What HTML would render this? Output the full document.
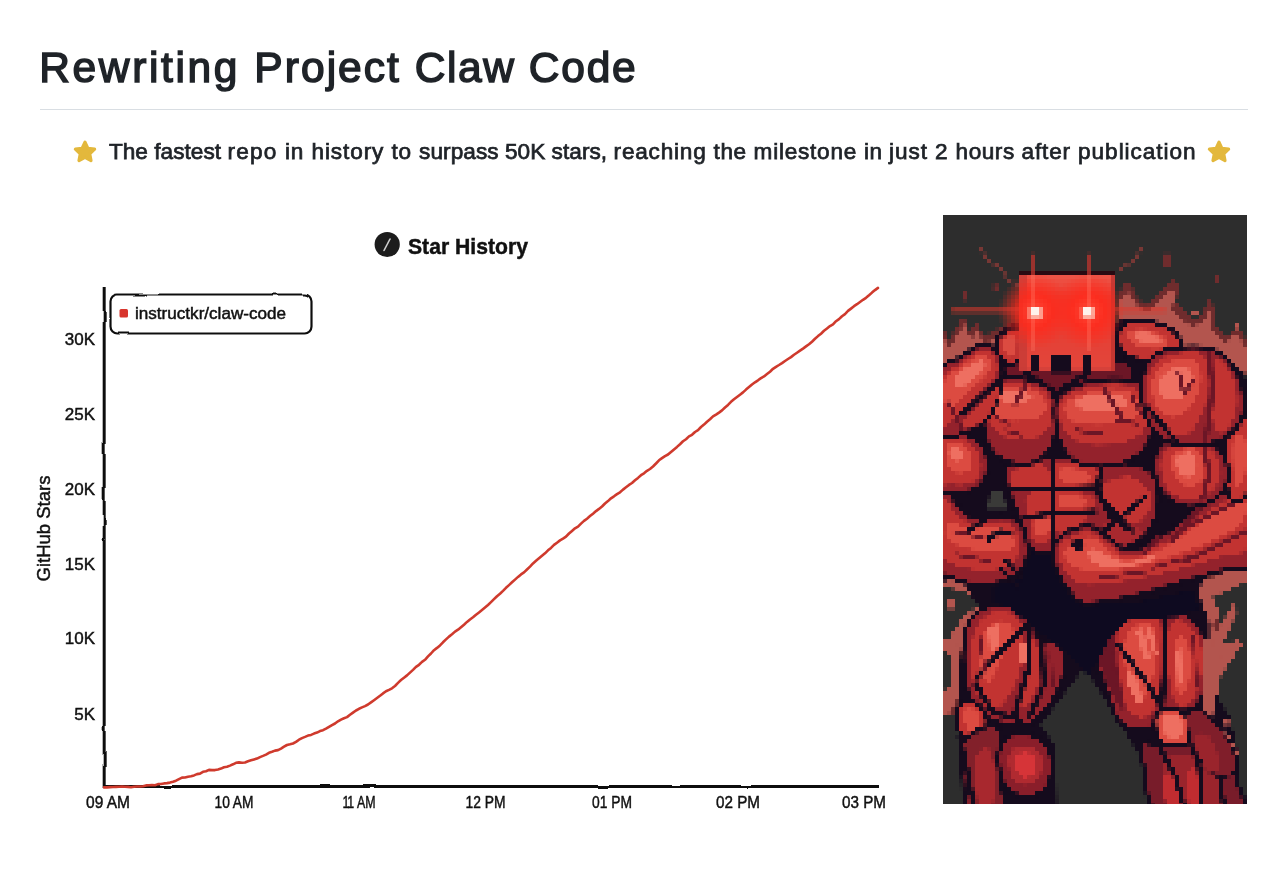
<!DOCTYPE html>
<html lang="en">
<head>
<meta charset="utf-8">
<title>Rewriting Project Claw Code</title>
<style>
html,body{margin:0;padding:0;background:#fff;}
body{width:1280px;height:871px;position:relative;overflow:hidden;font-family:"Liberation Sans",sans-serif;color:#1f2328;}
h1{position:absolute;left:39.3px;top:38px;margin:0;font-size:42.5px;line-height:60px;font-weight:normal;-webkit-text-stroke:1.5px #1f2328;color:#1f2328;white-space:nowrap;word-spacing:0;letter-spacing:0;}
.rule{position:absolute;left:40px;top:109px;width:1208px;height:1px;background:#d9dee3;}
.sub{position:absolute;left:0;top:136px;width:1280px;height:32px;}
.sub .t{position:absolute;left:109px;top:0;font-size:22.6px;line-height:32px;font-weight:normal;-webkit-text-stroke:0.75px #1f2328;letter-spacing:0;white-space:nowrap;color:#1f2328;transform-origin:0 50%;}
.sub svg{position:absolute;top:3px;}
#chart{position:absolute;left:0;top:200px;}
#art{position:absolute;left:943px;top:215px;}
.hand{font-family:"Liberation Sans",sans-serif;fill:#111;stroke:#111;stroke-width:0.45px;}
</style>
</head>
<body>
<h1 id="h1"><span style="letter-spacing:2.61px">Rewriting </span><span style="letter-spacing:2.05px">Project </span><span style="letter-spacing:1.55px">Claw </span><span style="letter-spacing:1.72px">Code</span></h1>
<div class="rule"></div>
<div class="sub">
<svg style="left:72px" width="26" height="26" viewBox="0 0 26 26"><path d="M13 3.2 L15.9 9.4 L22.6 10.2 L17.7 14.9 L19 21.6 L13 18.3 L7 21.6 L8.3 14.9 L3.4 10.2 L10.1 9.4 Z" fill="#e3b83c" stroke="#e3b83c" stroke-width="3.2" stroke-linejoin="round"/></svg>
<span class="t" id="subt"><span style="letter-spacing:0px">The </span><span style="letter-spacing:0.05px">fastest </span><span style="letter-spacing:1.2px">repo </span><span style="letter-spacing:0.88px">in </span><span style="letter-spacing:0.9px">history </span><span style="letter-spacing:0.79px">to </span><span style="letter-spacing:0.08px">surpass </span><span style="letter-spacing:0.01px">50K </span><span style="letter-spacing:0.07px">stars, </span><span style="letter-spacing:0.78px">reaching </span><span style="letter-spacing:0.58px">the </span><span style="letter-spacing:0.75px">milestone </span><span style="letter-spacing:0.38px">in </span><span style="letter-spacing:0.91px">just </span><span style="letter-spacing:0.83px">2 </span><span style="letter-spacing:0.53px">hours </span><span style="letter-spacing:0.84px">after </span><span style="letter-spacing:0.95px">publication</span></span>
<svg style="left:1206px" width="26" height="26" viewBox="0 0 26 26"><path d="M13 3.2 L15.9 9.4 L22.6 10.2 L17.7 14.9 L19 21.6 L13 18.3 L7 21.6 L8.3 14.9 L3.4 10.2 L10.1 9.4 Z" fill="#e3b83c" stroke="#e3b83c" stroke-width="3.2" stroke-linejoin="round"/></svg>
</div>

<svg id="chart" width="930" height="671" viewBox="0 200 930 671">

<defs>
<filter id="wob" x="-5%" y="-5%" width="110%" height="110%"><feTurbulence type="fractalNoise" baseFrequency="0.035" numOctaves="2" seed="5" result="n"/><feDisplacementMap in="SourceGraphic" in2="n" scale="2.4" xChannelSelector="R" yChannelSelector="G"/></filter>
</defs>
<!-- title -->
<circle cx="387.2" cy="244.5" r="12.6" fill="#1c1c1c"/>
<path d="M384 250.5 L390 239" stroke="#cfcfcf" stroke-width="1.6" stroke-linecap="round" fill="none"/>
<text class="hand" x="408" y="253.5" font-size="22" font-weight="bold" stroke-width="0" textLength="120" lengthAdjust="spacingAndGlyphs">Star History</text>
<!-- axes -->
<g filter="url(#wob)">
<path d="M104.2 287 L104.2 788" stroke="#111" stroke-width="3" fill="none"/>
<path d="M103 786.6 L879 786.6" stroke="#111" stroke-width="3" fill="none"/>
</g>
<!-- legend -->
<g filter="url(#wob)"><rect x="110.5" y="294.5" width="201" height="39" rx="7" ry="7" fill="#fff" stroke="#111" stroke-width="2.2"/></g>
<rect x="119.5" y="309" width="8.5" height="8.5" rx="1.5" fill="#d8352d"/>
<text class="hand" x="135" y="319" font-size="16" textLength="151" lengthAdjust="spacingAndGlyphs">instructkr/claw-code</text>
<!-- y ticks -->
<g class="hand" font-size="17" text-anchor="end">
<text x="95" y="344.5">30K</text>
<text x="95" y="419.5">25K</text>
<text x="95" y="494.5">20K</text>
<text x="95" y="570">15K</text>
<text x="95" y="643.5">10K</text>
<text x="95" y="719.5">5K</text>
</g>
<text class="hand" font-size="18" textLength="106" lengthAdjust="spacingAndGlyphs" transform="translate(49.5 581.5) rotate(-90)">GitHub Stars</text>
<!-- x ticks -->
<g class="hand" font-size="17" text-anchor="middle" lengthAdjust="spacingAndGlyphs">
<text x="108" y="808" textLength="44" lengthAdjust="spacingAndGlyphs">09 AM</text>
<text x="234" y="808" textLength="39" lengthAdjust="spacingAndGlyphs">10 AM</text>
<text x="359" y="808" textLength="33" lengthAdjust="spacingAndGlyphs"><tspan letter-spacing="-3">1</tspan>1 AM</text>
<text x="485.6" y="808" textLength="40" lengthAdjust="spacingAndGlyphs">12 PM</text>
<text x="612" y="808" textLength="40" lengthAdjust="spacingAndGlyphs">01 PM</text>
<text x="738" y="808" textLength="44" lengthAdjust="spacingAndGlyphs">02 PM</text>
<text x="864" y="808" textLength="44" lengthAdjust="spacingAndGlyphs">03 PM</text>
</g>
<!-- curve -->
<path d="M104.0 787.4 L107.0 787.4 L110.0 787.1 L113.0 787.0 L116.0 786.9 L119.0 786.8 L122.0 786.5 L125.0 786.8 L128.0 786.9 L131.0 787.2 L134.0 786.7 L137.0 786.5 L140.0 786.5 L143.0 786.2 L146.0 785.4 L149.0 785.3 L152.0 785.1 L155.0 785.2 L158.0 784.1 L161.0 784.0 L164.0 783.4 L167.0 783.1 L170.0 782.6 L173.0 781.8 L176.0 780.7 L179.0 779.1 L182.0 777.6 L185.0 777.5 L188.0 776.7 L191.0 776.3 L194.0 775.4 L197.0 774.1 L200.0 773.6 L203.0 771.8 L206.0 771.3 L209.0 769.9 L212.0 770.1 L215.0 770.1 L218.0 769.5 L221.0 768.6 L224.0 767.3 L227.0 766.8 L230.0 765.6 L233.0 764.3 L236.0 762.8 L239.0 762.4 L242.0 762.7 L245.0 762.5 L248.0 761.3 L251.0 760.3 L254.0 759.4 L257.0 758.6 L260.0 757.1 L263.0 755.9 L266.0 754.6 L269.0 752.8 L272.0 751.8 L275.0 750.6 L278.0 750.1 L281.0 748.6 L284.0 746.7 L287.0 745.0 L290.0 744.3 L293.0 743.5 L296.0 741.9 L299.0 739.7 L302.0 738.1 L305.0 736.9 L308.0 735.6 L311.0 734.9 L314.0 733.6 L317.0 732.6 L320.0 731.1 L323.0 730.2 L326.0 728.7 L329.0 726.9 L332.0 725.1 L335.0 723.5 L338.0 721.3 L341.0 719.6 L344.0 718.2 L347.0 717.1 L350.0 714.8 L353.0 712.6 L356.0 710.5 L359.0 708.8 L362.0 707.4 L365.0 706.1 L368.0 704.5 L371.0 702.4 L374.0 700.2 L377.0 698.0 L380.0 695.8 L383.0 693.4 L386.0 691.3 L389.0 689.9 L392.0 688.3 L395.0 686.0 L398.0 682.9 L401.0 680.0 L404.0 677.7 L407.0 675.4 L410.0 672.6 L413.0 669.9 L416.0 666.8 L419.0 664.8 L422.0 661.9 L425.0 659.8 L428.0 656.4 L431.0 653.5 L434.0 650.2 L437.0 647.9 L440.0 645.4 L443.0 642.3 L446.0 639.4 L449.0 636.6 L452.0 634.3 L455.0 631.6 L458.0 629.7 L461.0 627.2 L464.0 624.7 L467.0 621.9 L470.0 619.5 L473.0 617.3 L476.0 614.8 L479.0 612.5 L482.0 610.1 L485.0 607.6 L488.0 605.0 L491.0 602.1 L494.0 599.1 L497.0 596.2 L500.0 593.8 L503.0 590.9 L506.0 587.8 L509.0 585.1 L512.0 582.3 L515.0 579.6 L518.0 576.9 L521.0 574.4 L524.0 572.4 L527.0 569.5 L530.0 566.6 L533.0 563.4 L536.0 560.8 L539.0 558.3 L542.0 555.8 L545.0 553.3 L548.0 550.3 L551.0 547.9 L554.0 544.9 L557.0 542.7 L560.0 540.4 L563.0 538.7 L566.0 536.7 L569.0 533.5 L572.0 530.9 L575.0 528.3 L578.0 526.6 L581.0 523.6 L584.0 520.9 L587.0 518.7 L590.0 516.1 L593.0 513.7 L596.0 511.1 L599.0 508.9 L602.0 506.5 L605.0 503.5 L608.0 501.1 L611.0 498.3 L614.0 496.3 L617.0 494.1 L620.0 492.3 L623.0 489.6 L626.0 487.3 L629.0 484.9 L632.0 483.0 L635.0 480.3 L638.0 477.9 L641.0 475.2 L644.0 473.3 L647.0 470.8 L650.0 469.0 L653.0 466.5 L656.0 463.5 L659.0 460.3 L662.0 458.1 L665.0 456.1 L668.0 454.5 L671.0 451.9 L674.0 449.4 L677.0 446.9 L680.0 444.2 L683.0 441.3 L686.0 439.2 L689.0 436.4 L692.0 434.8 L695.0 432.0 L698.0 430.2 L701.0 427.0 L704.0 424.6 L707.0 421.7 L710.0 419.3 L713.0 416.4 L716.0 414.6 L719.0 412.6 L722.0 410.4 L725.0 407.5 L728.0 404.9 L731.0 401.8 L734.0 399.3 L737.0 397.0 L740.0 394.7 L743.0 392.4 L746.0 389.6 L749.0 387.1 L752.0 384.5 L755.0 382.3 L758.0 380.3 L761.0 378.1 L764.0 376.4 L767.0 374.0 L770.0 371.7 L773.0 368.8 L776.0 366.8 L779.0 365.0 L782.0 363.1 L785.0 361.0 L788.0 359.0 L791.0 357.1 L794.0 354.8 L797.0 352.7 L800.0 350.6 L803.0 348.6 L806.0 346.4 L809.0 344.3 L812.0 341.7 L815.0 338.8 L818.0 336.1 L821.0 333.7 L824.0 330.8 L827.0 328.5 L830.0 326.1 L833.0 324.4 L836.0 321.2 L839.0 319.1 L842.0 316.2 L845.0 314.1 L848.0 310.9 L851.0 308.6 L854.0 306.2 L857.0 304.2 L860.0 302.0 L863.0 299.8 L866.0 297.8 L869.0 295.3 L872.0 292.6 L875.0 290.1 L878.0 287.9" stroke="#cf3a2d" stroke-width="2.6" fill="none" stroke-linejoin="round" stroke-linecap="round"/>

</svg>

<svg id="art" width="304" height="589" viewBox="0 0 304 589">
<defs><filter id="pix" x="0" y="0" width="304" height="592" filterUnits="userSpaceOnUse" color-interpolation-filters="sRGB"><feGaussianBlur in="SourceGraphic" stdDeviation="0.55" result="b"/><feFlood x="2" y="2" width="1" height="1"/><feComposite width="4" height="4"/><feTile result="a"/><feComposite in="b" in2="a" operator="in" result="s"/><feOffset in="s" dx="-2" dy="0" result="h1"/><feOffset in="s" dx="-1" dy="0" result="h2"/><feOffset in="s" dx="1" dy="0" result="h3"/><feMerge result="h"><feMergeNode in="s"/><feMergeNode in="h1"/><feMergeNode in="h2"/><feMergeNode in="h3"/></feMerge><feOffset in="h" dx="0" dy="-2" result="v1"/><feOffset in="h" dx="0" dy="-1" result="v2"/><feOffset in="h" dx="0" dy="1" result="v3"/><feMerge><feMergeNode in="h"/><feMergeNode in="v1"/><feMergeNode in="v2"/><feMergeNode in="v3"/></feMerge></filter></defs>
<g filter="url(#pix)"><rect width="304" height="596" fill="#2d2d2d"/>
<!-- ART-START -->
<polygon points="0.0,111.4 6.1,126.6 13.5,113.1 20.9,101.2 27.0,116.4 33.7,107.3 41.2,121.5 50.6,116.4 62.4,110.7 76.9,108.0 76.9,155.2 0.0,155.2" fill="#6f2c2d" />
<polygon points="0.0,121.5 7.4,135.0 16.2,118.1 22.3,109.7 28.3,125.5 35.1,116.4 41.8,128.9 54.0,123.2 76.9,116.4 76.9,155.2 0.0,155.2" fill="#b3554e" />
<rect x="19.6" y="75.9" width="5.4" height="10.5" fill="#6f2c2d" />
<rect x="50.6" y="70.2" width="5.4" height="5.4" fill="#6f2c2d" />
<polygon points="175.5,79.3 183.9,66.8 189.7,72.6 195.1,83.7 203.2,90.4 211.9,84.4 220.0,75.9 229.5,65.1 236.9,71.5 233.5,87.7 243.7,98.5 252.4,105.3 260.5,97.9 267.3,83.7 271.0,91.8 274.0,111.4 284.2,122.2 294.3,111.4 299.0,116.8 304.1,125.5 304.1,158.6 175.5,158.6" fill="#6f2c2d" />
<polygon points="175.5,88.4 184.9,75.9 192.4,88.4 202.5,97.9 216.0,88.4 226.8,74.9 232.9,78.3 229.5,94.5 240.3,105.3 250.4,113.1 261.9,105.3 267.3,94.5 270.0,114.7 282.8,129.9 292.9,118.8 304.1,133.3 304.1,158.6 175.5,158.6" fill="#b3554e" />
<rect x="221.1" y="38.8" width="8.4" height="15.2" fill="#6f2c2d" />
<rect x="271.7" y="59.1" width="5.1" height="10.5" fill="#6f2c2d" />
<rect x="249.7" y="96.2" width="6.7" height="5.1" fill="#b3554e" />
<rect x="291.6" y="108.0" width="5.4" height="6.7" fill="#b3554e" />
<polygon points="0.0,350.1 20.2,363.6 43.9,380.5 50.6,394.0 37.1,407.5 23.6,434.5 20.2,499.0 0.0,499.0" fill="#6f2c2d" />
<polygon points="0.0,363.6 16.9,370.4 40.5,383.9 43.9,394.0 30.4,407.5 20.2,427.7 13.5,461.5 6.7,499.0 0.0,499.0" fill="#b3554e" />
<polygon points="0.0,380.5 13.5,380.5 27.0,392.3 16.9,410.9 6.7,421.0 0.0,421.0" fill="#2d2d2d" />
<rect x="4.7" y="387.2" width="8.8" height="8.8" fill="#b3554e" />
<polygon points="0.0,434.5 10.1,441.2 10.1,475.0 0.0,481.7" fill="#2d2d2d" />
<polygon points="249.7,363.6 270.0,353.5 304.1,350.1 304.1,499.0 263.2,499.0 259.9,441.2 249.7,394.0" fill="#6f2c2d" />
<polygon points="251.4,373.7 270.0,363.6 297.0,356.9 304.1,363.6 304.1,380.5 283.5,387.2 270.0,407.5 273.4,434.5 266.6,461.5 270.0,499.0 259.9,499.0 260.5,421.0 253.1,394.0" fill="#b3554e" />
<polygon points="273.4,380.5 304.1,370.4 304.1,499.0 280.1,499.0 276.7,461.5 283.5,437.9 276.7,407.5" fill="#2d2d2d" />
<polygon points="0.0,423.2 13.5,430.0 20.2,453.6 13.5,484.0 0.0,484.0" fill="#2d2d2d" />
<polygon points="0.0,352.4 10.1,352.4 50.6,382.7 43.9,396.2 23.6,409.7 13.5,436.7 0.0,430.0" fill="#b3554e" />
<polygon points="0.0,372.6 20.2,376.0 37.1,389.5 20.2,403.0 6.7,423.2 0.0,423.2" fill="#2d2d2d" />
<rect x="4.0" y="384.4" width="8.8" height="10.1" fill="#b3554e" />
<polygon points="0.0,424.9 13.5,424.9 16.9,443.5 15.2,484.0 6.7,497.5 0.0,497.5" fill="#b3554e" />
<polygon points="0.0,436.7 7.4,440.1 7.4,470.5 0.0,477.2" fill="#2d2d2d" />
<polygon points="246.4,372.6 304.1,349.0 304.1,406.4 283.5,396.2 270.0,409.7 263.2,436.7 249.7,406.4" fill="#b3554e" />
<polygon points="270.0,382.7 304.1,367.6 304.1,589.0 290.2,589.0 286.9,531.2 270.0,514.4 270.0,484.0 280.1,453.6 270.0,436.7 280.1,403.0" fill="#2d2d2d" />
<polygon points="266.6,430.0 290.2,389.5 295.3,396.2 280.1,430.0 297.0,424.9 300.4,431.7 280.1,450.2 275.1,484.0 286.9,511.0 283.5,517.7 268.3,504.2 266.6,470.5" fill="#b3554e" />
<rect x="282.8" y="504.2" width="6.1" height="6.7" fill="#b3554e" />
<path d="M-3.4 162.0 C-0.6 137.3 10.0 151.0 16.9 145.8 C23.7 140.6 31.3 132.7 37.8 130.9 C44.3 129.1 51.9 137.7 55.7 135.0 C59.5 132.3 57.0 118.7 60.7 114.7 C64.5 110.8 75.4 105.7 78.3 111.4 C81.2 117.0 62.7 142.3 78.3 148.5 C93.9 154.7 156.4 155.0 172.1 148.5 C187.9 142.0 167.7 117.0 172.8 109.7 C177.9 102.4 192.5 103.5 202.5 104.6 C212.5 105.7 226.1 111.4 232.9 116.4 C239.6 121.5 236.8 131.9 243.0 135.0 C249.2 138.1 261.6 132.2 270.0 135.0 C278.4 137.8 287.9 145.1 293.6 151.9 C299.3 158.6 302.3 151.8 304.1 175.5 C305.8 199.2 354.8 274.2 304.1 294.0 C253.4 313.7 51.2 316.0 0.0 294.0 C-51.2 272.0 -6.2 186.7 -3.4 162.0Z" fill="#150b1d" />
<polygon points="0.0,272.5 304.1,272.5 304.1,350.1 259.9,363.6 256.5,380.5 266.6,407.5 266.6,441.2 266.6,468.2 286.9,502.0 297.0,542.5 298.7,593.1 20.2,593.1 16.9,461.5 20.2,421.0 37.1,394.0 20.2,367.0 0.0,356.9" fill="#150b1d" />
<polygon points="141.7,452.9 97.9,511.0 113.1,531.2 114.7,597.1 222.7,597.1 202.5,551.5 189.0,527.9 162.0,484.0" fill="#2d2d2d" />
<polygon points="47.2,277.6 60.7,277.6 64.1,294.4 45.6,294.4" fill="#3a3a38" />
<rect x="168.7" y="107.3" width="13.5" height="43.9" fill="#150b1d" />
<path d="M25.3 409.7 C29.1 400.7 36.8 396.0 43.9 392.9 C50.9 389.8 60.1 388.9 67.5 391.2 C74.9 393.4 83.1 400.2 88.4 406.4 C93.8 412.6 95.5 425.2 99.6 428.3 C103.7 431.4 109.3 422.4 113.1 424.9 C116.8 427.5 121.3 435.9 122.2 443.5 C123.0 451.1 121.6 461.5 118.1 470.5 C114.6 479.5 107.4 490.7 101.2 497.5 C95.1 504.2 90.0 509.8 81.0 511.0 C72.0 512.2 56.1 509.4 47.2 504.9 C38.4 500.4 32.1 493.7 27.7 484.0 C23.3 474.3 21.3 459.2 20.9 446.9 C20.5 434.5 21.5 418.7 25.3 409.7Z" fill="#94222c" stroke="#150b1d" stroke-width="4.0" stroke-linejoin="round"/>
<path d="M32.1 416.5 C35.2 407.5 41.6 402.7 47.2 399.6 C52.9 396.5 60.5 396.2 65.8 397.9 C71.2 399.6 76.8 403.3 79.3 409.7 C81.8 416.2 82.1 426.6 81.0 436.7 C79.9 446.9 77.1 460.9 72.6 470.5 C68.1 480.1 59.9 491.9 54.0 494.1 C48.1 496.4 41.3 490.7 37.1 484.0 C32.9 477.2 29.5 464.9 28.7 453.6 C27.8 442.4 29.0 425.5 32.1 416.5Z" fill="#c23331" />
<path d="M40.5 419.9 C42.9 415.1 46.7 410.0 50.6 408.1 C54.6 406.1 60.7 406.4 64.1 408.1 C67.5 409.7 71.4 412.8 70.9 418.2 C70.3 423.5 64.7 432.0 60.7 440.1 C56.8 448.3 51.1 464.3 47.2 467.1 C43.4 469.9 39.6 462.1 37.8 457.0 C36.0 451.9 36.0 442.9 36.4 436.7 C36.9 430.6 38.1 424.7 40.5 419.9Z" fill="#dc4b41" />
<polygon points="45.6,413.1 54.7,409.7 56.7,430.0 47.2,440.1" fill="#ee6f61" />
<polygon points="76.9,428.3 83.7,430.0 83.0,448.6 77.6,446.9" fill="#ee6f61" />
<path d="M87.1 424.9 C89.0 422.1 94.5 430.3 96.2 436.7 C97.9 443.2 99.2 454.5 97.2 463.7 C95.2 473.0 87.7 489.1 84.4 492.4 C81.0 495.8 76.9 490.5 76.9 484.0 C76.9 477.5 82.7 463.5 84.4 453.6 C86.1 443.8 85.1 427.7 87.1 424.9Z" fill="#c23331" />
<polyline points="82.7,411.4 33.7,463.7" fill="none" stroke="#150b1d" stroke-width="5.1" stroke-linecap="square" stroke-linejoin="miter" />
<polyline points="88.4,406.4 86.1,453.6 72.6,497.5" fill="none" stroke="#150b1d" stroke-width="5.1" stroke-linecap="square" stroke-linejoin="miter" />
<polyline points="99.6,430.0 101.2,470.5 87.7,500.9" fill="none" stroke="#150b1d" stroke-width="4.7" stroke-linecap="square" stroke-linejoin="miter" />
<polyline points="33.7,470.5 50.6,497.5 79.3,505.9" fill="none" stroke="#150b1d" stroke-width="5.1" stroke-linecap="square" stroke-linejoin="miter" />
<path d="M15.2 494.1 C16.9 488.8 22.5 485.1 27.0 485.7 C31.5 486.2 39.4 492.2 42.2 497.5 C45.0 502.8 45.8 512.7 43.9 517.7 C41.9 522.8 34.9 527.9 30.4 527.9 C25.9 527.9 19.4 523.4 16.9 517.7 C14.3 512.1 13.5 499.5 15.2 494.1Z" fill="#c23331" stroke="#150b1d" stroke-width="4.0" stroke-linejoin="round"/>
<path d="M20.2 498.2 C20.5 494.0 25.9 492.9 28.7 493.4 C31.5 494.0 35.8 498.2 37.1 501.5 C38.4 504.9 38.1 510.9 36.4 513.7 C34.8 516.5 29.7 521.0 27.0 518.4 C24.3 515.8 20.0 502.3 20.2 498.2Z" fill="#dc4b41" />
<path d="M20.2 527.9 C25.3 519.4 43.9 510.4 50.6 511.0 C57.4 511.6 59.6 522.2 60.7 531.2 C61.9 540.2 57.1 554.0 57.4 565.0 C57.7 576.0 67.5 591.7 62.4 597.1 C57.4 602.4 34.0 603.0 27.0 597.1 C20.0 591.2 21.4 573.2 20.2 561.6 C19.1 550.1 15.2 536.3 20.2 527.9Z" fill="#82202a" stroke="#150b1d" stroke-width="4.0" stroke-linejoin="round"/>
<path d="M33.7 543.1 C35.4 532.9 43.6 532.7 46.6 534.6 C49.5 536.6 50.8 544.7 51.3 554.9 C51.7 565.0 51.7 588.6 49.3 595.4 C46.8 602.1 39.0 604.1 36.4 595.4 C33.9 586.7 32.1 553.2 33.7 543.1Z" fill="#a8282e" />
<path d="M57.4 532.9 C59.9 526.5 65.8 520.8 72.6 519.4 C79.3 518.0 91.7 520.0 97.9 524.5 C104.1 529.0 108.6 538.6 109.7 546.4 C110.8 554.3 108.3 565.8 104.6 571.7 C101.0 577.7 93.9 581.0 87.7 581.9 C81.6 582.7 72.6 580.7 67.5 576.8 C62.4 572.9 59.1 565.6 57.4 558.2 C55.7 550.9 54.8 539.4 57.4 532.9Z" fill="#8a1e2a" stroke="#150b1d" stroke-width="4.0" stroke-linejoin="round"/>
<path d="M66.8 539.3 C68.5 534.5 73.7 531.9 78.3 531.2 C82.9 530.6 90.8 532.2 94.5 535.3 C98.2 538.4 100.2 544.7 100.2 549.8 C100.2 554.9 97.9 562.3 94.5 565.7 C91.1 569.0 84.0 571.0 79.6 570.1 C75.3 569.2 70.3 565.4 68.2 560.3 C66.0 555.2 65.1 544.2 66.8 539.3Z" fill="#b02a30" />
<path d="M73.6 542.0 C75.3 539.1 81.2 537.5 84.4 538.0 C87.5 538.4 91.1 541.5 92.5 544.7 C93.8 548.0 94.1 554.5 92.5 557.6 C90.8 560.6 85.7 563.3 82.7 563.0 C79.6 562.7 75.8 559.4 74.2 555.9 C72.7 552.4 71.9 545.0 73.6 542.0Z" fill="#d63438" />
<polyline points="16.9,521.1 23.6,551.5 32.1,597.1" fill="none" stroke="#150b1d" stroke-width="5.1" stroke-linecap="square" stroke-linejoin="miter" />
<path d="M158.6 418.2 C162.4 411.4 168.2 407.2 175.5 403.0 C182.8 398.8 192.4 394.0 202.5 392.9 C212.6 391.7 227.1 392.9 236.2 396.2 C245.4 399.6 252.0 405.8 257.2 413.1 C262.3 420.4 266.2 430.6 267.3 440.1 C268.4 449.7 266.7 461.5 263.9 470.5 C261.1 479.5 257.0 489.6 250.4 494.1 C243.8 498.6 232.1 494.1 224.4 497.5 C216.7 500.9 212.1 512.7 204.2 514.4 C196.3 516.1 184.1 514.7 177.2 507.6 C170.3 500.6 166.8 482.9 162.7 472.2 C158.6 461.5 153.2 452.5 152.5 443.5 C151.9 434.5 154.8 424.9 158.6 418.2Z" fill="#94222c" stroke="#150b1d" stroke-width="4.0" stroke-linejoin="round"/>
<path d="M175.5 414.8 C178.3 405.8 187.3 404.9 194.1 403.0 C200.8 401.1 211.9 398.0 216.0 403.7 C220.1 409.3 218.7 423.6 218.7 436.7 C218.7 449.9 218.7 471.3 216.0 482.3 C213.3 493.3 207.7 500.7 202.5 502.6 C197.3 504.4 189.2 501.0 184.9 493.4 C180.7 485.9 178.8 470.1 177.2 457.0 C175.6 443.9 172.7 423.8 175.5 414.8Z" fill="#c23331" />
<path d="M184.9 418.2 C187.6 412.6 192.9 410.5 197.4 409.7 C201.9 409.0 209.2 407.6 211.9 413.8 C214.6 420.0 215.2 435.5 213.6 446.9 C212.1 458.3 206.5 477.4 202.5 482.3 C198.5 487.3 193.2 483.0 189.7 476.6 C186.2 470.1 182.4 453.2 181.6 443.5 C180.8 433.8 182.3 423.8 184.9 418.2Z" fill="#dc4b41" />
<polygon points="193.0,415.8 200.5,413.8 207.9,443.5 201.8,446.2" fill="#ee6f61" />
<polygon points="203.2,414.5 209.2,413.8 215.3,440.1 211.9,442.1" fill="#ee6f61" />
<polygon points="184.9,454.3 194.1,464.4 201.8,488.0 195.7,491.4 185.6,470.5" fill="#ee6f61" />
<path d="M227.5 411.4 C230.4 403.8 238.0 405.4 243.0 408.1 C247.9 410.7 254.5 419.1 257.2 427.3 C259.9 435.5 260.5 447.3 259.2 457.0 C257.8 466.7 253.3 480.3 249.1 485.7 C244.8 491.0 237.5 494.4 233.5 489.1 C229.6 483.7 226.5 466.6 225.4 453.6 C224.4 440.7 224.5 419.0 227.5 411.4Z" fill="#c23331" />
<path d="M232.9 427.3 C234.4 422.1 238.6 420.4 241.0 422.6 C243.4 424.7 246.6 432.2 247.4 440.1 C248.2 448.0 247.6 463.3 245.7 469.8 C243.8 476.3 238.6 482.0 236.2 479.3 C233.9 476.6 232.4 462.3 231.9 453.6 C231.3 445.0 231.4 432.5 232.9 427.3Z" fill="#dc4b41" />
<polygon points="233.5,436.7 238.6,434.0 239.6,469.8 234.9,471.2" fill="#ee6f61" />
<path d="M159.3 424.9 C161.8 420.3 168.2 411.0 170.8 415.8 C173.4 420.6 172.9 440.0 174.8 453.6 C176.7 467.2 183.5 494.1 182.2 497.5 C181.0 500.9 171.8 482.9 167.4 473.9 C163.0 464.9 157.3 451.7 155.9 443.5 C154.6 435.3 156.8 429.5 159.3 424.9Z" fill="#6c1626" />
<polyline points="221.1,396.2 222.7,443.5 219.4,494.1" fill="none" stroke="#150b1d" stroke-width="5.1" stroke-linecap="square" stroke-linejoin="miter" />
<polyline points="175.5,430.0 205.9,470.5 219.4,494.1" fill="none" stroke="#150b1d" stroke-width="4.7" stroke-linecap="square" stroke-linejoin="miter" />
<path d="M213.3 500.9 C215.5 495.8 224.0 493.6 229.5 494.1 C235.0 494.7 243.3 499.2 246.4 504.2 C249.5 509.3 250.3 519.4 248.1 524.5 C245.8 529.6 238.2 534.6 232.9 534.6 C227.5 534.6 219.3 530.1 216.0 524.5 C212.7 518.9 211.0 505.9 213.3 500.9Z" fill="#dc4b41" stroke="#150b1d" stroke-width="4.0" stroke-linejoin="round"/>
<path d="M220.0 503.6 C221.6 500.2 229.4 499.0 232.9 500.2 C236.3 501.4 240.1 507.1 240.6 511.0 C241.2 514.9 239.1 522.2 236.2 523.8 C233.4 525.4 226.1 523.8 223.4 520.4 C220.7 517.1 218.5 506.9 220.0 503.6Z" fill="#ee6f61" />
<path d="M199.1 527.9 C201.4 523.4 207.6 531.2 216.0 531.2 C224.4 531.2 240.7 530.1 249.7 527.9 C258.7 525.6 263.8 516.1 270.0 517.7 C276.2 519.4 282.9 530.1 286.9 538.0 C290.8 545.9 291.9 555.2 293.6 565.0 C295.3 574.8 309.9 591.7 297.0 597.1 C284.1 602.4 231.7 603.5 216.0 597.1 C200.2 590.6 205.3 569.8 202.5 558.2 C199.7 546.7 196.9 532.4 199.1 527.9Z" fill="#781c2a" stroke="#150b1d" stroke-width="4.0" stroke-linejoin="round"/>
<path d="M221.1 548.1 C222.6 538.7 236.0 542.5 243.0 540.7 C250.0 538.9 257.9 535.0 263.2 537.3 C268.6 539.7 272.0 544.9 275.1 554.9 C278.2 564.8 288.7 590.0 281.8 597.1 C274.9 604.1 243.7 605.2 233.5 597.1 C223.4 588.9 219.5 557.5 221.1 548.1Z" fill="#9a242c" />
<path d="M245.0 559.9 C246.0 552.8 252.0 552.8 254.5 554.2 C256.9 555.6 259.2 561.2 259.9 568.4 C260.5 575.5 260.4 592.3 258.5 597.1 C256.6 601.8 250.6 603.2 248.4 597.1 C246.1 590.9 244.0 567.1 245.0 559.9Z" fill="#c02c30" />
<path d="M219.4 565.0 C220.4 559.1 229.2 556.3 232.9 561.6 C236.5 567.0 242.3 591.2 241.3 597.1 C240.3 603.0 230.5 602.4 226.8 597.1 C223.1 591.7 218.4 570.9 219.4 565.0Z" fill="#c02c30" />
<polyline points="248.1,527.9 256.5,551.5 259.9,597.1" fill="none" stroke="#150b1d" stroke-width="4.7" stroke-linecap="square" stroke-linejoin="miter" />
<polyline points="216.0,531.2 232.9,561.6 243.0,597.1" fill="none" stroke="#150b1d" stroke-width="4.7" stroke-linecap="square" stroke-linejoin="miter" />
<polyline points="270.0,521.1 276.7,551.5 281.8,597.1" fill="none" stroke="#150b1d" stroke-width="4.7" stroke-linecap="square" stroke-linejoin="miter" />
<polygon points="260.5,425.0 269.9,425.0 272.7,445.7 281.2,440.1 290.6,427.8 297.2,426.9 290.6,443.8 278.4,460.8 272.7,487.1 269.9,504.1 283.1,515.4 296.3,538.0 290.6,541.7 271.8,522.9 260.5,504.1" fill="#b3554e" />
<rect x="281.2" y="505.0" width="5.6" height="5.6" fill="#b3554e" />
<path d="M245.4 498.4 C248.0 495.3 256.1 495.0 260.5 496.5 C264.9 498.1 267.1 502.2 271.8 507.8 C276.5 513.5 285.3 522.3 288.7 530.4 C292.2 538.6 295.3 551.8 292.5 556.8 C289.7 561.8 278.4 563.7 271.8 560.6 C265.2 557.4 257.4 545.5 253.0 538.0 C248.6 530.4 246.7 522.0 245.4 515.4 C244.2 508.8 242.9 501.6 245.4 498.4Z" fill="#801e2a" stroke="#150b1d" stroke-width="2.3" stroke-linejoin="round"/>
<path d="M253.0 522.9 C253.9 519.1 259.2 517.9 262.4 519.1 C265.5 520.4 269.3 524.8 271.8 530.4 C274.3 536.1 278.1 548.6 277.5 553.0 C276.8 557.4 271.5 558.7 268.0 556.8 C264.6 554.9 259.2 547.4 256.7 541.7 C254.2 536.1 252.0 526.7 253.0 522.9Z" fill="#9a242c" />
<polygon points="79.3,334.9 113.1,333.2 116.4,360.2 129.9,382.2 189.0,388.9 249.7,375.4 256.5,394.0 236.2,402.4 189.0,404.1 168.7,421.0 158.6,441.2 145.1,461.5 128.2,441.2 101.2,421.0 67.5,394.0 50.6,387.2 50.6,367.0 79.3,363.6" fill="#0e0a20" />
<path d="M64.1 252.2 C70.9 246.1 92.8 243.2 108.0 242.1 C123.2 241.0 138.8 243.2 155.2 245.5 C171.7 247.7 196.4 248.3 206.5 255.6 C216.7 262.9 216.4 278.7 216.0 289.4 C215.6 300.1 210.9 312.2 204.2 319.7 C197.4 327.3 185.9 333.8 175.5 334.9 C165.1 336.1 152.4 326.1 141.7 326.5 C131.1 326.9 120.7 336.2 111.4 337.3 C102.1 338.4 91.7 338.4 86.1 333.2 C80.4 328.1 80.7 315.2 77.6 306.2 C74.5 297.2 69.7 288.2 67.5 279.2 C65.2 270.2 57.4 258.4 64.1 252.2Z" fill="#94222c" stroke="#150b1d" stroke-width="4.0" stroke-linejoin="round"/>
<path d="M72.6 255.6 C77.9 252.0 95.5 248.0 101.2 250.6 C107.0 253.1 110.1 266.3 107.3 270.8 C104.5 275.3 90.7 277.3 84.4 277.6 C78.0 277.8 71.2 276.2 69.2 272.5 C67.2 268.8 67.2 259.3 72.6 255.6Z" fill="#c23331" />
<path d="M113.1 250.6 C119.0 247.2 140.9 249.2 148.5 252.2 C156.1 255.3 160.9 264.9 158.6 269.1 C156.4 273.3 142.6 277.0 135.0 277.6 C127.4 278.1 116.7 277.0 113.1 272.5 C109.4 268.0 107.2 253.9 113.1 250.6Z" fill="#c23331" />
<path d="M118.1 254.6 C121.4 252.5 136.8 254.4 141.7 256.3 C146.7 258.2 151.1 263.6 147.8 265.7 C144.6 267.9 127.1 271.0 122.2 269.1 C117.2 267.3 114.9 256.7 118.1 254.6Z" fill="#dc4b41" />
<path d="M84.4 280.9 C87.7 276.7 103.8 273.3 108.0 275.9 C112.2 278.4 113.1 291.9 109.7 296.1 C106.3 300.3 92.0 303.7 87.7 301.2 C83.5 298.7 81.0 285.2 84.4 280.9Z" fill="#c23331" />
<path d="M114.7 277.6 C120.1 274.7 142.6 278.1 148.5 280.9 C154.4 283.7 155.5 291.6 150.2 294.4 C144.8 297.2 122.3 300.6 116.4 297.8 C110.5 295.0 109.4 280.4 114.7 277.6Z" fill="#c23331" />
<path d="M117.1 280.6 C120.9 278.9 137.6 281.6 141.7 283.3 C145.9 285.0 145.6 289.4 141.7 291.1 C137.9 292.7 122.9 295.2 118.8 293.4 C114.7 291.7 113.3 282.3 117.1 280.6Z" fill="#dc4b41" />
<path d="M158.6 272.5 C162.6 266.0 180.6 260.4 189.0 262.4 C197.4 264.3 208.4 276.4 209.2 284.3 C210.1 292.2 201.4 306.8 194.1 309.6 C186.7 312.4 171.3 307.4 165.4 301.2 C159.5 295.0 154.7 279.0 158.6 272.5Z" fill="#c23331" />
<path d="M168.7 306.2 C174.9 305.1 190.7 310.5 195.7 313.0 C200.8 315.5 202.5 318.6 199.1 321.4 C195.7 324.2 182.2 330.2 175.5 329.9 C168.7 329.6 159.7 323.7 158.6 319.7 C157.5 315.8 162.6 307.4 168.7 306.2Z" fill="#a8282e" />
<path d="M88.4 304.6 C91.2 300.2 106.0 298.1 109.7 301.2 C113.4 304.3 113.5 318.8 110.7 323.1 C107.9 327.5 96.5 330.3 92.8 327.2 C89.1 324.1 85.6 308.9 88.4 304.6Z" fill="#c23331" />
<path d="M91.8 306.9 C93.9 304.5 103.7 303.7 106.3 305.2 C108.9 306.8 109.5 314.0 107.3 316.4 C105.2 318.8 96.1 321.3 93.5 319.7 C90.9 318.2 89.7 309.3 91.8 306.9Z" fill="#dc4b41" />
<path d="M114.7 301.2 C119.5 298.1 141.7 297.5 145.1 299.5 C148.5 301.5 139.8 309.9 135.0 313.0 C130.2 316.1 119.8 320.0 116.4 318.1 C113.1 316.1 110.0 304.3 114.7 301.2Z" fill="#c23331" />
<polyline points="110.7,245.5 111.4,334.9" fill="none" stroke="#150b1d" stroke-width="5.1" stroke-linecap="square" stroke-linejoin="miter" />
<polyline points="67.5,275.9 111.4,274.2 158.6,272.5" fill="none" stroke="#150b1d" stroke-width="4.7" stroke-linecap="square" stroke-linejoin="miter" />
<polyline points="81.0,302.9 111.4,298.8 151.9,296.8" fill="none" stroke="#150b1d" stroke-width="4.7" stroke-linecap="square" stroke-linejoin="miter" />
<polyline points="158.6,248.9 155.2,275.9 168.7,302.9 189.0,316.4" fill="none" stroke="#150b1d" stroke-width="4.7" stroke-linecap="square" stroke-linejoin="miter" />
<polyline points="148.5,272.5 189.0,316.4" fill="none" stroke="#150b1d" stroke-width="4.4" stroke-linecap="square" stroke-linejoin="miter" />
<polyline points="202.5,282.6 162.0,316.4" fill="none" stroke="#150b1d" stroke-width="4.4" stroke-linecap="square" stroke-linejoin="miter" />
<path d="M0.0 277.6 C3.9 268.0 16.3 295.3 23.6 299.5 C30.9 303.7 37.1 302.6 43.9 302.9 C50.6 303.2 57.9 299.2 64.1 301.2 C70.3 303.2 77.6 307.7 81.0 314.7 C84.4 321.7 86.3 335.2 84.4 343.4 C82.4 351.5 77.1 359.1 69.2 363.6 C61.3 368.1 47.0 370.4 37.1 370.4 C27.3 370.4 16.3 365.9 10.1 363.6 C3.9 361.4 1.7 371.2 0.0 356.9 C-1.7 342.5 -3.9 287.1 0.0 277.6Z" fill="#94222c" stroke="#150b1d" stroke-width="4.0" stroke-linejoin="round"/>
<path d="M0.0 286.0 C3.4 280.3 12.9 302.0 20.2 305.6 C27.6 309.2 36.8 307.3 43.9 307.6 C50.9 307.9 57.3 305.7 62.4 307.6 C67.6 309.5 72.5 314.1 74.9 319.1 C77.3 324.1 78.9 332.1 76.9 337.6 C75.0 343.1 70.6 349.2 63.4 352.1 C56.2 355.1 44.3 357.5 33.7 355.5 C23.2 353.5 5.6 351.6 0.0 340.0 C-5.6 328.4 -3.4 291.7 0.0 286.0Z" fill="#c23331" />
<path d="M6.7 307.9 C10.6 306.5 20.2 313.8 27.0 314.3 C33.7 314.9 40.6 310.4 47.2 311.0 C53.9 311.5 62.8 314.1 66.8 317.7 C70.9 321.3 74.2 329.3 71.5 332.6 C68.8 335.8 59.2 337.3 50.6 337.3 C42.1 337.3 28.0 334.9 20.2 332.6 C12.5 330.2 6.3 327.2 4.0 323.1 C1.8 319.0 2.9 309.4 6.7 307.9Z" fill="#dc4b41" />
<polyline points="27.0,316.4 43.9,303.5 67.5,303.5" fill="none" stroke="#150b1d" stroke-width="5.1" stroke-linecap="square" stroke-linejoin="miter" />
<polyline points="47.2,323.8 57.4,317.0 67.5,318.7" fill="none" stroke="#150b1d" stroke-width="5.4" stroke-linecap="square" stroke-linejoin="miter" />
<polyline points="64.1,346.7 79.3,363.6" fill="none" stroke="#150b1d" stroke-width="4.4" stroke-linecap="square" stroke-linejoin="miter" />
<polyline points="57.4,353.5 75.9,372.1" fill="none" stroke="#150b1d" stroke-width="4.4" stroke-linecap="square" stroke-linejoin="miter" />
<path d="M111.4 331.6 C113.8 325.3 120.8 318.8 127.6 315.7 C134.3 312.6 142.5 309.8 151.9 313.0 C161.3 316.2 173.2 333.2 183.9 334.9 C194.6 336.6 203.9 330.0 216.0 323.1 C228.1 316.2 244.1 301.7 256.5 293.4 C268.9 285.1 281.8 277.2 290.2 273.2 C298.7 269.1 304.3 256.6 307.1 269.1 C309.9 281.7 311.1 334.1 307.1 348.4 C303.2 362.8 295.3 351.8 283.5 355.2 C271.7 358.6 252.0 364.2 236.2 368.7 C220.5 373.2 204.7 378.8 189.0 382.2 C173.2 385.6 152.4 390.3 141.7 388.9 C131.1 387.5 129.7 379.7 124.9 373.7 C120.1 367.8 115.3 360.5 113.1 353.5 C110.8 346.5 109.0 337.9 111.4 331.6Z" fill="#94222c" stroke="#150b1d" stroke-width="4.0" stroke-linejoin="round"/>
<path d="M116.4 333.9 C117.9 328.1 125.0 323.6 130.9 321.1 C136.9 318.6 143.0 315.8 151.9 319.1 C160.7 322.4 172.7 339.3 183.9 341.0 C195.2 342.7 206.7 335.9 219.4 329.2 C232.0 322.5 247.5 308.9 259.9 300.8 C272.2 292.7 286.3 284.3 293.6 280.6 C301.0 276.9 302.3 269.9 304.1 278.6 C305.8 287.2 308.6 321.9 304.1 332.6 C299.5 343.3 289.2 338.8 276.7 342.7 C264.3 346.6 245.2 352.3 229.5 356.2 C213.7 360.1 196.9 364.1 182.2 366.3 C167.6 368.6 151.8 371.4 141.7 369.7 C131.7 368.0 126.4 362.2 122.2 356.2 C118.0 350.2 115.0 339.8 116.4 333.9Z" fill="#c23331" />
<path d="M122.2 335.9 C123.5 332.0 130.7 327.8 135.7 325.8 C140.6 323.9 144.1 321.0 151.9 324.1 C159.6 327.2 171.0 342.7 182.2 344.4 C193.5 346.1 205.9 340.7 219.4 334.3 C232.9 327.8 250.3 313.4 263.2 305.6 C276.2 297.8 290.2 289.4 297.0 287.3 C303.8 285.3 305.2 288.7 304.1 293.4 C303.0 298.1 301.6 308.0 290.2 315.7 C278.9 323.3 253.1 333.1 236.2 339.3 C219.4 345.5 203.6 350.0 189.0 352.8 C174.4 355.6 158.7 356.8 148.5 356.2 C138.3 355.6 132.0 352.8 127.6 349.4 C123.2 346.1 120.8 339.9 122.2 335.9Z" fill="#dc4b41" />
<path d="M149.2 334.3 C154.7 334.4 171.2 346.6 182.2 347.4 C193.3 348.3 211.9 339.2 215.3 339.3 C218.7 339.5 210.3 346.2 202.5 348.4 C194.7 350.7 177.6 353.1 168.7 352.8 C159.9 352.5 152.4 349.8 149.2 346.7 C145.9 343.7 143.7 334.1 149.2 334.3Z" fill="#ee6f61" />
<ellipse cx="135.7" cy="329.9" rx="6.4" ry="5.7" fill="#150b1d" transform="rotate(0 135.7 329.9)" />
<polyline points="202.5,338.3 216.0,323.1" fill="none" stroke="#6c1626" stroke-width="4.4" stroke-linecap="square" stroke-linejoin="miter" />
<polyline points="229.5,326.5 256.5,293.4" fill="none" stroke="#6c1626" stroke-width="4.4" stroke-linecap="square" stroke-linejoin="miter" />
<polyline points="236.2,316.4 290.2,289.4" fill="none" stroke="#6c1626" stroke-width="4.0" stroke-linecap="square" stroke-linejoin="miter" />
<polyline points="243.0,346.7 304.1,316.4" fill="none" stroke="#6c1626" stroke-width="4.4" stroke-linecap="square" stroke-linejoin="miter" />
<path d="M285.2 211.7 C289.4 203.9 303.5 198.3 307.1 208.4 C310.8 218.5 309.9 259.6 307.1 272.5 C304.3 285.4 294.5 288.8 290.2 286.0 C286.0 283.2 282.7 268.0 281.8 255.6 C281.0 243.2 281.0 219.6 285.2 211.7Z" fill="#c23331" stroke="#150b1d" stroke-width="4.0" stroke-linejoin="round"/>
<path d="M290.9 225.9 C292.5 218.3 300.2 216.6 302.1 222.5 C303.9 228.5 303.6 254.0 302.1 261.7 C300.5 269.3 294.5 274.4 292.6 268.4 C290.8 262.5 289.3 233.6 290.9 225.9Z" fill="#dc4b41" />
<path d="M-3.4 220.2 C0.6 211.2 12.9 216.5 20.2 218.5 C27.6 220.5 36.3 225.8 40.5 232.0 C44.7 238.2 46.7 248.6 45.6 255.6 C44.4 262.7 39.7 270.5 33.7 274.2 C27.8 277.8 16.3 277.8 10.1 277.6 C3.9 277.3 -1.1 282.1 -3.4 272.5 C-5.6 262.9 -7.3 229.2 -3.4 220.2Z" fill="#94222c" stroke="#150b1d" stroke-width="4.0" stroke-linejoin="round"/>
<path d="M0.0 225.9 C3.1 219.0 12.8 222.3 18.6 224.2 C24.4 226.2 31.5 232.5 34.8 237.7 C38.0 243.0 39.2 250.5 38.1 255.6 C37.1 260.7 33.3 266.0 28.3 268.4 C23.4 270.9 13.2 270.6 8.4 270.1 C3.7 269.7 1.4 273.1 0.0 265.7 C-1.4 258.4 -3.1 232.8 0.0 225.9Z" fill="#c23331" />
<path d="M5.1 231.0 C7.4 227.7 14.7 227.7 18.6 229.3 C22.4 230.9 27.0 236.4 28.3 240.8 C29.7 245.2 29.1 252.7 26.7 255.6 C24.2 258.5 17.2 259.4 13.5 258.3 C9.8 257.2 5.8 253.4 4.4 248.9 C3.0 244.3 2.7 234.2 5.1 231.0Z" fill="#dc4b41" />
<path d="M7.4 234.0 C8.9 232.4 14.7 232.0 16.9 233.3 C19.1 234.7 21.1 239.9 20.6 242.1 C20.0 244.4 15.6 246.7 13.5 246.8 C11.4 247.0 8.8 244.9 7.8 242.8 C6.7 240.7 5.9 235.6 7.4 234.0Z" fill="#ee6f61" />
<path d="M211.9 243.8 C213.5 235.4 219.4 228.9 226.8 225.2 C234.2 221.6 247.6 219.6 256.5 221.9 C265.4 224.1 275.3 231.4 280.1 238.7 C284.9 246.1 286.9 257.9 285.2 265.7 C283.5 273.6 277.0 281.6 270.0 286.0 C263.0 290.4 251.7 293.8 243.0 292.1 C234.3 290.4 222.9 283.9 217.7 275.9 C212.5 267.8 210.4 252.2 211.9 243.8Z" fill="#94222c" stroke="#150b1d" stroke-width="4.0" stroke-linejoin="round"/>
<path d="M218.7 245.5 C220.0 238.7 225.5 234.2 231.5 231.3 C237.5 228.4 247.7 226.0 254.8 227.9 C262.0 229.9 270.6 236.8 274.4 242.8 C278.2 248.8 279.1 257.9 277.4 264.1 C275.8 270.2 270.3 276.4 264.6 279.9 C258.9 283.4 249.9 286.3 243.0 285.0 C236.1 283.6 227.5 278.4 223.4 271.8 C219.4 265.2 217.3 252.2 218.7 245.5Z" fill="#c23331" />
<path d="M228.5 244.5 C229.3 239.7 234.2 237.0 238.3 235.4 C242.4 233.7 249.4 233.0 253.1 234.7 C256.9 236.4 259.9 240.7 260.9 245.8 C261.9 251.0 261.6 261.4 259.2 265.7 C256.8 270.1 250.6 272.1 246.4 271.8 C242.1 271.5 236.5 268.6 233.5 264.1 C230.6 259.5 227.7 249.3 228.5 244.5Z" fill="#dc4b41" />
<path d="M233.5 244.5 C234.1 240.9 238.7 239.6 241.6 238.7 C244.6 237.9 249.0 237.5 251.1 239.4 C253.2 241.4 254.5 246.8 254.1 250.6 C253.8 254.3 251.7 260.1 249.1 261.7 C246.4 263.3 240.9 262.9 238.3 260.0 C235.7 257.1 233.0 248.0 233.5 244.5Z" fill="#ee6f61" />
<polyline points="261.6,232.0 266.6,259.0 259.9,284.3" fill="none" stroke="#6c1626" stroke-width="4.7" stroke-linecap="square" stroke-linejoin="miter" />
<path d="M76.9 148.5 C95.5 146.8 156.8 146.2 175.5 148.5 C194.2 150.7 189.0 157.5 189.0 162.0 C189.0 166.5 187.9 172.1 175.5 175.5 C163.1 178.9 129.9 182.8 114.7 182.2 C99.6 181.7 92.8 176.1 84.4 172.1 C75.9 168.2 65.4 162.6 64.1 158.6 C62.9 154.7 58.4 150.2 76.9 148.5Z" fill="#6c1626" />
<polyline points="84.4,158.6 113.1,178.9 145.1,158.6" fill="none" stroke="#150b1d" stroke-width="5.1" stroke-linecap="square" stroke-linejoin="miter" />
<path d="M42.2 178.9 C45.1 172.7 50.3 167.7 57.4 165.4 C64.4 163.0 75.8 163.0 84.4 164.7 C92.9 166.4 103.7 169.2 108.7 175.5 C113.6 181.8 114.1 192.9 114.1 202.5 C114.1 212.1 112.9 225.1 108.7 232.9 C104.4 240.6 96.4 246.9 88.4 249.1 C80.4 251.2 67.9 248.8 60.7 245.7 C53.6 242.5 49.0 237.4 45.6 230.2 C42.1 223.0 40.4 211.0 39.8 202.5 C39.3 193.9 39.3 185.1 42.2 178.9Z" fill="#94222c" stroke="#150b1d" stroke-width="4.0" stroke-linejoin="round"/>
<path d="M46.2 179.5 C48.7 174.6 53.0 171.1 59.4 169.4 C65.8 167.7 76.8 167.7 84.4 169.4 C91.9 171.1 100.6 174.0 104.6 179.5 C108.7 185.1 109.1 196.1 108.7 202.5 C108.3 208.9 106.3 213.9 102.3 217.7 C98.2 221.5 90.9 224.6 84.4 225.4 C77.8 226.3 68.9 224.9 63.1 222.7 C57.3 220.6 52.7 216.6 49.6 212.6 C46.5 208.7 45.1 204.6 44.5 199.1 C44.0 193.6 43.8 184.5 46.2 179.5Z" fill="#c23331" />
<path d="M51.3 179.5 C53.3 175.7 57.3 173.8 62.8 172.8 C68.3 171.8 78.1 171.8 84.4 173.5 C90.7 175.1 97.6 178.4 100.6 182.6 C103.5 186.7 104.6 194.7 101.9 198.4 C99.2 202.2 91.1 204.1 84.4 205.2 C77.6 206.3 67.0 206.8 61.4 205.2 C55.8 203.6 52.3 200.0 50.6 195.7 C48.9 191.5 49.3 183.4 51.3 179.5Z" fill="#dc4b41" />
<path d="M59.7 177.9 C62.4 175.8 72.5 175.4 77.6 176.2 C82.7 177.0 90.4 180.6 90.4 182.6 C90.4 184.6 82.5 187.4 77.6 188.3 C72.8 189.3 64.4 190.1 61.4 188.3 C58.4 186.6 57.0 179.9 59.7 177.9Z" fill="#ee6f61" />
<path d="M114.7 183.9 C118.4 177.5 126.0 173.6 135.0 170.4 C144.0 167.2 158.3 165.0 168.7 164.7 C179.2 164.4 190.8 164.7 197.4 168.7 C204.1 172.8 206.5 181.1 208.6 189.0 C210.7 196.9 211.4 208.0 209.9 216.0 C208.5 224.0 205.5 231.2 199.8 236.9 C194.1 242.7 185.2 248.2 175.5 250.4 C165.8 252.7 150.7 252.8 141.7 250.4 C132.7 248.1 126.3 243.1 121.5 236.2 C116.7 229.4 114.2 218.0 113.1 209.2 C111.9 200.5 111.1 190.4 114.7 183.9Z" fill="#94222c" stroke="#150b1d" stroke-width="4.0" stroke-linejoin="round"/>
<path d="M118.8 186.3 C121.9 181.2 128.7 178.2 137.0 175.5 C145.3 172.8 159.4 170.3 168.7 170.1 C178.1 169.9 187.8 170.7 193.4 174.1 C199.0 177.6 200.9 184.9 202.5 191.0 C204.1 197.2 204.7 205.6 203.2 210.9 C201.7 216.2 198.6 219.7 193.4 222.7 C188.2 225.8 180.3 228.4 172.1 229.5 C163.9 230.6 151.8 230.9 144.1 229.5 C136.5 228.1 130.6 225.0 126.2 221.1 C121.9 217.1 119.4 211.7 118.1 205.9 C116.9 200.1 115.6 191.4 118.8 186.3Z" fill="#c23331" />
<path d="M123.9 188.0 C126.6 184.4 132.9 181.7 140.4 179.5 C147.9 177.4 160.5 174.8 168.7 174.8 C177.0 174.8 185.4 176.3 190.0 179.5 C194.6 182.8 196.7 190.1 196.4 194.4 C196.1 198.7 194.1 202.6 188.3 205.2 C182.6 207.8 170.8 209.4 162.0 209.9 C153.2 210.5 142.0 210.1 135.7 208.6 C129.3 207.1 125.8 204.2 123.9 200.8 C121.9 197.4 121.1 191.5 123.9 188.0Z" fill="#dc4b41" />
<path d="M135.7 184.6 C139.2 182.2 151.0 179.8 158.6 179.5 C166.3 179.3 177.5 180.8 181.6 182.9 C185.6 185.0 186.7 189.7 182.9 192.0 C179.1 194.3 166.2 196.5 158.6 196.8 C151.0 197.0 141.2 195.7 137.4 193.7 C133.5 191.7 132.1 187.0 135.7 184.6Z" fill="#ee6f61" />
<polyline points="162.0,175.5 178.9,202.5" fill="none" stroke="#6c1626" stroke-width="4.4" stroke-linecap="square" stroke-linejoin="miter" />
<polyline points="84.4,168.7 72.6,189.0" fill="none" stroke="#6c1626" stroke-width="4.4" stroke-linecap="square" stroke-linejoin="miter" />
<path d="M-3.4 158.6 C-0.0 146.0 10.0 148.0 16.9 143.4 C23.7 138.8 31.6 132.2 37.8 130.9 C44.0 129.7 50.3 131.1 54.0 135.7 C57.7 140.3 59.8 150.9 60.1 158.6 C60.4 166.4 58.4 174.4 55.7 182.2 C53.0 190.1 49.2 200.0 43.9 205.9 C38.5 211.8 31.5 215.4 23.6 217.7 C15.7 219.9 1.1 229.2 -3.4 219.4 C-7.9 209.5 -6.7 171.3 -3.4 158.6Z" fill="#94222c" stroke="#150b1d" stroke-width="4.0" stroke-linejoin="round"/>
<path d="M0.0 163.7 C3.1 153.6 12.3 153.2 18.6 148.5 C24.9 143.8 32.5 137.1 37.8 135.7 C43.1 134.3 47.9 136.2 50.6 140.1 C53.3 143.9 56.8 151.6 54.0 158.6 C51.2 165.7 40.5 174.9 33.7 182.2 C27.0 189.6 19.1 198.0 13.5 202.5 C7.9 207.0 2.2 215.7 0.0 209.2 C-2.2 202.8 -3.1 173.8 0.0 163.7Z" fill="#c23331" />
<path d="M2.7 165.4 C5.6 159.1 14.5 155.4 20.2 151.2 C26.0 147.0 32.6 141.4 37.1 140.4 C41.6 139.4 45.8 142.1 47.2 145.1 C48.7 148.2 48.7 153.6 45.6 158.6 C42.5 163.7 34.6 169.9 28.7 175.5 C22.8 181.1 14.5 190.1 10.1 192.4 C5.8 194.6 3.9 193.5 2.7 189.0 C1.5 184.5 -0.2 171.7 2.7 165.4Z" fill="#dc4b41" />
<path d="M13.5 161.3 C15.3 157.7 22.8 153.8 27.0 151.2 C31.2 148.6 36.3 145.4 38.8 145.8 C41.3 146.2 43.6 150.3 42.2 153.6 C40.8 156.8 34.7 162.2 30.4 165.4 C26.0 168.6 19.0 173.5 16.2 172.8 C13.4 172.1 11.7 164.9 13.5 161.3Z" fill="#ee6f61" />
<path d="M33.7 194.1 C38.8 188.7 46.8 179.7 50.6 175.5 C54.4 171.3 56.1 167.1 56.7 168.7 C57.3 170.4 56.1 180.0 54.0 185.6 C51.9 191.2 48.4 197.9 43.9 202.5 C39.4 207.1 30.9 212.5 27.0 213.3 C23.1 214.1 19.1 210.8 20.2 207.6 C21.4 204.4 28.7 199.4 33.7 194.1Z" fill="#c23331" />
<polyline points="56.0,166.0 20.9,199.1" fill="none" stroke="#150b1d" stroke-width="5.7" stroke-linecap="square" stroke-linejoin="miter" />
<polyline points="6.7,189.0 20.2,216.0" fill="none" stroke="#6c1626" stroke-width="4.0" stroke-linecap="square" stroke-linejoin="miter" />
<path d="M55.7 123.2 C57.7 119.2 64.0 115.9 67.5 114.7 C71.0 113.6 75.4 111.4 76.9 116.4 C78.5 121.5 79.1 139.8 76.9 145.1 C74.8 150.5 67.7 149.6 64.1 148.5 C60.6 147.4 57.1 142.6 55.7 138.4 C54.3 134.2 53.7 127.1 55.7 123.2Z" fill="#c23331" stroke="#150b1d" stroke-width="4.0" stroke-linejoin="round"/>
<path d="M61.4 126.2 C62.3 123.0 67.0 121.6 69.2 121.5 C71.3 121.4 73.8 122.6 74.2 125.5 C74.7 128.5 73.6 136.8 71.9 139.4 C70.2 142.0 65.9 143.3 64.1 141.1 C62.4 138.9 60.6 129.5 61.4 126.2Z" fill="#dc4b41" />
<path d="M177.2 114.7 C179.2 110.2 183.7 107.5 189.0 106.3 C194.3 105.1 201.9 105.4 209.2 107.3 C216.6 109.3 228.1 113.5 232.9 118.1 C237.7 122.7 240.2 130.5 237.9 135.0 C235.7 139.5 227.5 143.7 219.4 145.1 C211.2 146.5 196.0 145.4 189.0 143.4 C182.0 141.5 179.2 138.1 177.2 133.3 C175.2 128.5 175.2 119.2 177.2 114.7Z" fill="#c23331" stroke="#150b1d" stroke-width="4.0" stroke-linejoin="round"/>
<path d="M186.3 117.1 C188.4 114.7 196.5 113.9 202.5 114.7 C208.5 115.6 218.2 119.5 222.1 122.2 C225.9 124.9 227.6 128.9 225.4 130.9 C223.3 133.0 215.2 134.6 209.2 134.3 C203.3 134.0 193.5 132.1 189.7 129.3 C185.8 126.4 184.2 119.5 186.3 117.1Z" fill="#dc4b41" />
<path d="M193.0 118.8 C194.9 117.6 201.6 116.9 205.9 118.1 C210.1 119.3 218.1 124.0 218.7 125.9 C219.3 127.7 213.2 129.4 209.2 129.3 C205.3 129.1 197.4 127.0 194.7 125.2 C192.0 123.5 191.2 120.0 193.0 118.8Z" fill="#ee6f61" />
<path d="M199.8 162.0 C201.5 153.6 204.9 146.5 210.9 141.7 C217.0 137.0 226.4 134.4 236.2 133.3 C246.1 132.2 261.0 131.9 270.0 135.0 C279.0 138.1 285.2 145.1 290.2 151.9 C295.3 158.6 299.0 166.5 300.4 175.5 C301.8 184.5 302.6 197.4 298.7 205.9 C294.7 214.3 287.2 221.9 276.7 226.1 C266.3 230.3 246.9 232.6 236.2 231.2 C225.6 229.8 218.5 224.2 212.6 217.7 C206.7 211.2 202.9 201.7 200.8 192.4 C198.7 183.1 198.1 170.4 199.8 162.0Z" fill="#94222c" stroke="#150b1d" stroke-width="4.0" stroke-linejoin="round"/>
<path d="M205.2 163.7 C206.8 156.5 210.5 150.0 216.0 145.8 C221.5 141.6 230.6 139.3 237.9 138.4 C245.2 137.4 255.1 136.7 259.9 140.1 C264.7 143.4 266.1 150.5 266.6 158.6 C267.2 166.8 266.1 179.4 263.2 189.0 C260.4 198.6 254.8 210.7 249.7 216.0 C244.7 221.3 238.2 221.9 232.9 221.1 C227.5 220.2 222.1 216.3 217.7 210.9 C213.3 205.6 208.6 196.9 206.5 189.0 C204.5 181.1 203.6 170.9 205.2 163.7Z" fill="#c23331" />
<path d="M209.9 165.4 C211.8 160.6 216.1 153.7 221.1 150.2 C226.0 146.7 234.0 144.7 239.6 144.4 C245.2 144.2 251.7 144.4 254.8 148.5 C257.9 152.5 259.3 161.4 258.2 168.7 C257.1 176.1 252.6 186.7 248.1 192.4 C243.6 198.0 236.5 202.2 231.2 202.5 C225.8 202.8 219.5 198.0 216.0 194.1 C212.5 190.1 210.9 183.7 209.9 178.9 C208.9 174.1 208.1 170.2 209.9 165.4Z" fill="#dc4b41" />
<path d="M216.0 166.0 C217.9 162.7 223.3 157.5 227.8 155.2 C232.3 153.0 239.2 151.5 243.0 152.5 C246.8 153.6 249.6 157.5 250.4 161.3 C251.3 165.1 250.4 171.6 248.1 175.5 C245.7 179.4 240.5 183.5 236.2 184.9 C232.0 186.4 226.0 185.5 222.7 183.9 C219.5 182.4 217.8 178.5 216.7 175.5 C215.5 172.5 214.1 169.4 216.0 166.0Z" fill="#ee6f61" />
<path d="M274.0 145.1 C276.3 142.0 284.2 151.3 287.5 156.9 C290.9 162.6 293.6 171.3 294.3 178.9 C295.0 186.5 294.7 195.9 291.9 202.5 C289.1 209.1 281.1 218.7 277.4 218.7 C273.8 218.7 270.6 209.7 270.0 202.5 C269.4 195.3 273.4 185.1 274.0 175.5 C274.7 165.9 271.8 148.2 274.0 145.1Z" fill="#c23331" />
<polyline points="266.6,138.4 270.0,175.5 263.2,225.4" fill="none" stroke="#6c1626" stroke-width="4.7" stroke-linecap="square" stroke-linejoin="miter" />
<polyline points="236.2,158.6 241.3,178.9 251.4,165.4" fill="none" stroke="#6c1626" stroke-width="3.7" stroke-linecap="square" stroke-linejoin="miter" />
<polyline points="206.5,194.1 232.9,226.1" fill="none" stroke="#150b1d" stroke-width="4.7" stroke-linecap="square" stroke-linejoin="miter" />
<defs><radialGradient id="eg"><stop offset="0" stop-color="#ff4a38" stop-opacity="1"/><stop offset="0.45" stop-color="#ff2a1c" stop-opacity="0.85"/><stop offset="1" stop-color="#ff2a1c" stop-opacity="0"/></radialGradient><linearGradient id="hg" x1="0" y1="0" x2="0" y2="1"><stop offset="0" stop-color="#ee5548"/><stop offset="0.25" stop-color="#e93a2e"/><stop offset="1" stop-color="#e2463c"/></linearGradient></defs>
<rect x="77.6" y="55.0" width="95.5" height="6.4" fill="#2a0a12" />
<rect x="77.6" y="60.7" width="95.5" height="94.2" fill="url(#hg)" />
<rect x="77.6" y="60.7" width="5.4" height="94.2" fill="#c23a36" opacity="0.7"/>
<rect x="168.1" y="60.7" width="5.1" height="94.2" fill="#b8302e" opacity="0.7"/>
<rect x="88.4" y="139.0" width="9.4" height="16.9" fill="#150b1d" />
<rect x="108.0" y="139.0" width="21.9" height="19.6" fill="#150b1d" />
<rect x="140.1" y="139.0" width="9.4" height="16.9" fill="#150b1d" />
<ellipse cx="92.8" cy="96.9" rx="37.1" ry="37.1" fill="url(#eg)" transform="rotate(0 92.8 96.9)" />
<ellipse cx="145.5" cy="96.9" rx="37.1" ry="37.1" fill="url(#eg)" transform="rotate(0 145.5 96.9)" />
<rect x="10.1" y="93.1" width="67.5" height="5.4" fill="#e0382c" opacity="0.55"/>
<rect x="173.1" y="93.1" width="49.6" height="5.4" fill="#e0382c" opacity="0.5"/>
<rect x="88.4" y="38.8" width="4.7" height="21.9" fill="#c8342e" opacity="0.7"/>
<rect x="145.1" y="38.8" width="4.7" height="21.9" fill="#c8342e" opacity="0.7"/>
<rect x="88.4" y="60.7" width="5.4" height="74.2" fill="#ff7a66" opacity="0.35"/>
<rect x="143.1" y="60.7" width="5.4" height="74.2" fill="#ff7a66" opacity="0.35"/>
<rect x="35.4" y="33.7" width="4.4" height="4.4" fill="#8a3a36" opacity="0.8"/>
<rect x="40.5" y="38.6" width="4.4" height="4.4" fill="#8a3a36" opacity="0.8"/>
<rect x="45.6" y="43.5" width="4.4" height="4.4" fill="#8a3a36" opacity="0.8"/>
<rect x="50.6" y="48.4" width="4.4" height="4.4" fill="#8a3a36" opacity="0.8"/>
<rect x="55.7" y="53.3" width="4.4" height="4.4" fill="#8a3a36" opacity="0.8"/>
<rect x="60.7" y="58.2" width="4.4" height="4.4" fill="#8a3a36" opacity="0.8"/>
<rect x="65.8" y="63.1" width="4.4" height="4.4" fill="#8a3a36" opacity="0.8"/>
<rect x="70.9" y="68.0" width="4.4" height="4.4" fill="#8a3a36" opacity="0.8"/>
<rect x="197.4" y="33.7" width="4.4" height="4.4" fill="#8a3a36" opacity="0.8"/>
<rect x="192.4" y="38.6" width="4.4" height="4.4" fill="#8a3a36" opacity="0.8"/>
<rect x="187.3" y="43.5" width="4.4" height="4.4" fill="#8a3a36" opacity="0.8"/>
<rect x="182.2" y="48.4" width="4.4" height="4.4" fill="#8a3a36" opacity="0.8"/>
<rect x="177.2" y="53.3" width="4.4" height="4.4" fill="#8a3a36" opacity="0.8"/>
<rect x="86.4" y="91.1" width="13.5" height="12.8" fill="#ff9c8c" />
<rect x="88.4" y="92.8" width="9.4" height="9.4" fill="#fff2ec" />
<rect x="138.7" y="91.1" width="13.5" height="12.8" fill="#ff9c8c" />
<rect x="140.7" y="92.8" width="9.4" height="9.4" fill="#fff2ec" />
<polyline points="64.1,216.0 79.3,221.1" fill="none" stroke="#6c1626" stroke-width="3.4" stroke-linecap="square" stroke-linejoin="miter" />
<polyline points="135.0,216.0 158.6,219.4" fill="none" stroke="#6c1626" stroke-width="3.4" stroke-linecap="square" stroke-linejoin="miter" />
<polyline points="175.5,205.9 195.7,209.2" fill="none" stroke="#6c1626" stroke-width="3.4" stroke-linecap="square" stroke-linejoin="miter" />
<polyline points="189.0,182.2 199.1,199.1" fill="none" stroke="#6c1626" stroke-width="3.4" stroke-linecap="square" stroke-linejoin="miter" />
<polyline points="54.0,202.5 67.5,209.2" fill="none" stroke="#6c1626" stroke-width="3.0" stroke-linecap="square" stroke-linejoin="miter" />
<polyline points="10.1,316.4 40.5,323.1" fill="none" stroke="#6c1626" stroke-width="3.0" stroke-linecap="square" stroke-linejoin="miter" />
<polyline points="13.5,340.0 47.2,346.7" fill="none" stroke="#6c1626" stroke-width="3.0" stroke-linecap="square" stroke-linejoin="miter" />
<polyline points="158.6,363.6 202.5,356.9" fill="none" stroke="#6c1626" stroke-width="3.0" stroke-linecap="square" stroke-linejoin="miter" />
<polyline points="209.2,353.5 256.5,340.0" fill="none" stroke="#6c1626" stroke-width="3.0" stroke-linecap="square" stroke-linejoin="miter" />
<polyline points="37.1,423.2 42.2,453.6" fill="none" stroke="#6c1626" stroke-width="3.0" stroke-linecap="square" stroke-linejoin="miter" />
<polyline points="108.0,440.1 109.7,470.5" fill="none" stroke="#6c1626" stroke-width="3.0" stroke-linecap="square" stroke-linejoin="miter" />
<polyline points="251.4,423.2 253.8,470.5" fill="none" stroke="#6c1626" stroke-width="3.0" stroke-linecap="square" stroke-linejoin="miter" />
<polyline points="168.7,436.7 175.5,470.5" fill="none" stroke="#6c1626" stroke-width="3.0" stroke-linecap="square" stroke-linejoin="miter" />
<!-- ART-END -->
</g></svg>
</body>
</html>
